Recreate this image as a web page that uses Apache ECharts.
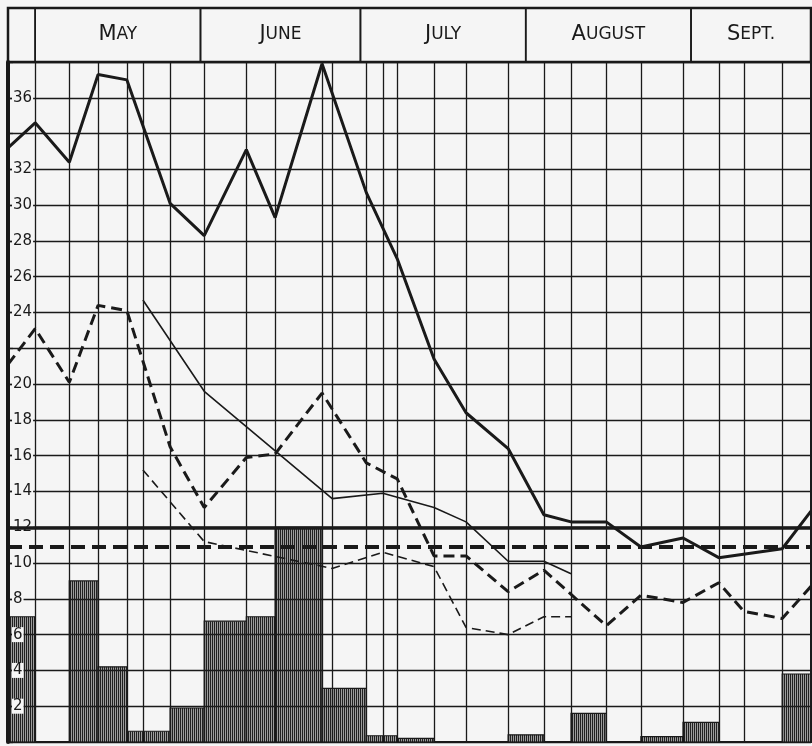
<!DOCTYPE html>
<html>
<head>
<meta charset="utf-8">
<script src="https://cdn.jsdelivr.net/npm/echarts@6/dist/echarts.min.js"></script>
<style>
	html, body { margin: 0; padding: 0; background: #f5f5f5; }
	#chart { width: 812px; height: 746px; }
</style>
</head>
<body>
<div id="chart"></div>
<script>
// x is counted in days after May 1
var dayMin = -5.1,
	dayMax = 145.5;

var months = ['May', 'June', 'July', 'August', 'Sept.'];
var monthStart = [0, 31, 61, 92, 123];

// dates of the vertical rulings
var sampleDays = [0, 6.4, 11.8, 17.2, 20.2, 25.3, 31.7, 39.6, 45.0, 53.8, 55.7, 62.1, 65.2, 67.9,
	74.8, 80.8, 88.7, 95.4, 100.5, 107.1, 113.6, 121.5, 128.2, 132.9, 140.1];

var yLabelled = [2, 4, 6, 8, 10, 12, 14, 16, 18, 20, 24, 26, 28, 30, 32, 36];

var heavySolidDays = [-5.1, 0, 6.4, 11.8, 17.2, 25.3, 31.7, 39.6, 45.0, 53.8, 62.1, 67.9, 74.8, 80.8,
	88.7, 95.4, 100.5, 107.1, 113.6, 121.5, 128.2, 140.1, 145.5];
var heavySolidValues = [33.2, 34.6, 32.4, 37.3, 37.0, 30.1, 28.3, 33.1, 29.3, 37.9, 30.7, 27.0, 21.4, 18.4,
	16.4, 12.7, 12.3, 12.3, 10.9, 11.4, 10.3, 10.8, 12.9];

var heavyDashDays = [-5.1, 0, 6.4, 11.8, 17.2, 25.3, 31.7, 39.6, 45.0, 53.8, 62.1, 67.9, 74.8, 80.8,
	88.7, 95.4, 107.1, 113.6, 121.5, 128.2, 132.9, 140.1, 145.5];
var heavyDashValues = [21.1, 23.1, 20.1, 24.4, 24.1, 16.5, 13.1, 15.9, 16.1, 19.5, 15.6, 14.7, 10.4, 10.4,
	8.4, 9.6, 6.5, 8.2, 7.8, 8.9, 7.3, 6.9, 8.7];

var lightDays = [20.2, 31.7, 55.7, 65.2, 74.8, 80.8, 88.7, 95.4, 100.5];
var lightSolidValues = [24.7, 19.6, 13.6, 13.9, 13.1, 12.3, 10.1, 10.1, 9.4];
var lightDashValues = [15.2, 11.2, 9.7, 10.6, 9.8, 6.4, 6.0, 7.0, 7.0];

var barStart = [-5.1, 6.4, 11.8, 17.2, 25.3, 31.7, 39.6, 45.0, 53.8, 62.1, 67.9, 88.7, 100.5, 113.6, 121.5, 140.1];
var barEnd = [0, 11.8, 17.2, 25.3, 31.7, 39.6, 45.0, 53.8, 62.1, 67.9, 74.8, 95.4, 107.1, 121.5, 128.2, 145.5];
var barValue = [7.0, 9.0, 4.2, 0.6, 1.9, 6.75, 7.0, 12.0, 3.0, 0.35, 0.2, 0.4, 1.6, 0.3, 1.1, 3.8];

var solidRule = 12,
	dashRule = 10.9;

function zip(a, b) {
	var out = [], i;
	for (i = 0; i < a.length; i++) out.push([a[i], b[i]]);
	return out;
}

// vertical hatching for the bars
var hatch = document.createElement('canvas');
hatch.width = 2;
hatch.height = 2;
var hctx = hatch.getContext('2d');
hctx.fillStyle = '#9c9c9c';
hctx.fillRect(0, 0, 2, 2);
hctx.fillStyle = '#202020';
hctx.fillRect(0, 0, 1, 2);

var ink = '#1a1a1a';

var barData = [], i;
for (i = 0; i < barValue.length; i++) barData.push([barStart[i], barEnd[i], barValue[i]]);

var monthAreas = [];
monthAreas.push([{ xAxis: dayMin, name: '' }, { xAxis: monthStart[0] }]);
for (i = 0; i < months.length; i++) {
	monthAreas.push([
		{ xAxis: monthStart[i], name: months[i] },
		{ xAxis: i < months.length - 1 ? monthStart[i + 1] : dayMax }
	]);
}

var rulings = sampleDays.map(function (d) { return { xAxis: d }; });

function renderBar(params, api) {
	var p0 = api.coord([api.value(0), api.value(2)]);
	var p1 = api.coord([api.value(1), 0]);
	return {
		type: 'rect',
		shape: { x: p0[0], y: p0[1], width: p1[0] - p0[0], height: p1[1] - p0[1] },
		style: { fill: { image: hatch, repeat: 'repeat' }, stroke: ink, lineWidth: 1.2 }
	};
}

var chart = echarts.init(document.getElementById('chart'), null, { renderer: 'canvas' });

var option = {
	backgroundColor: '#f5f5f5',
	animation: false,
	grid: [
		{ left: 8, right: 1, top: 62, bottom: 4, show: true, borderColor: ink, borderWidth: 2, backgroundColor: 'transparent' },
		{ left: 8, right: 1, top: 8, height: 54, show: true, borderColor: ink, borderWidth: 2.5, backgroundColor: 'transparent' }
	],
	xAxis: [
		{ type: 'value', gridIndex: 0, min: dayMin, max: dayMax, show: false },
		{ type: 'value', gridIndex: 1, min: dayMin, max: dayMax, show: false }
	],
	yAxis: [
		{
			type: 'value', gridIndex: 0, min: 0, max: 38, interval: 2, z: 3,
			axisLine: { show: true, onZero: false, lineStyle: { color: ink, width: 4 } },
			axisTick: { show: true, inside: true, length: 5, lineStyle: { color: ink, width: 1.3 } },
			splitLine: { show: true, lineStyle: { color: ink, width: 1.3 } },
			axisLabel: {
				inside: true, margin: 4, color: ink, fontSize: 15, fontFamily: 'DejaVu Sans',
				backgroundColor: '#f5f5f5', padding: [0, 1],
				formatter: function (v) { return yLabelled.indexOf(v) >= 0 ? String(v) : ''; }
			}
		},
		{ type: 'value', gridIndex: 1, min: 0, max: 1, show: false }
	],
	series: [
		{
			type: 'custom', name: 'bars', xAxisIndex: 0, yAxisIndex: 0, z: 2,
			renderItem: renderBar, encode: { x: [0, 1], y: 2 }, data: barData
		},
		{
			type: 'line', name: 'rulings', xAxisIndex: 0, yAxisIndex: 0, data: [], silent: true,
			markLine: {
				symbol: 'none', silent: true, label: { show: false },
				lineStyle: { color: ink, width: 1.3, type: 'solid' },
				data: rulings
			}
		},
		{
			type: 'line', name: 'rules', xAxisIndex: 0, yAxisIndex: 0, data: [], silent: true,
			markLine: {
				symbol: 'none', silent: true, label: { show: false }, z: 6,
				data: [
					{ yAxis: solidRule, lineStyle: { color: ink, width: 3.5, type: 'solid' } },
					{ yAxis: dashRule, lineStyle: { color: ink, width: 4, type: [14, 7] } }
				]
			}
		},
		{
			type: 'line', name: 'heavy solid', z: 7, symbol: 'none',
			lineStyle: { color: ink, width: 3 }, data: zip(heavySolidDays, heavySolidValues)
		},
		{
			type: 'line', name: 'heavy dashed', z: 7, symbol: 'none',
			lineStyle: { color: ink, width: 3, type: [11, 6] }, data: zip(heavyDashDays, heavyDashValues)
		},
		{
			type: 'line', name: 'light solid', z: 7, symbol: 'none',
			lineStyle: { color: ink, width: 1.6 }, data: zip(lightDays, lightSolidValues)
		},
		{
			type: 'line', name: 'light dashed', z: 7, symbol: 'none',
			lineStyle: { color: ink, width: 1.6, type: [9, 5] }, data: zip(lightDays, lightDashValues)
		},
		{
			type: 'line', name: 'months', xAxisIndex: 1, yAxisIndex: 1, data: [], silent: true,
			markArea: {
				silent: true,
				itemStyle: { color: 'transparent', borderColor: ink, borderWidth: 1.6 },
				label: {
					show: true, position: 'inside', color: ink,
					formatter: function (p) {
						if (!p.name) return '';
						var s = p.name.toUpperCase();
						return '{big|' + s.charAt(0) + '}{small|' + s.slice(1) + '}';
					},
					rich: {
						big: { fontSize: 21, fontFamily: 'DejaVu Sans', color: ink },
						small: { fontSize: 17, fontFamily: 'DejaVu Sans', color: ink }
					}
				},
				data: monthAreas
			}
		}
	]
};

chart.setOption(option);
</script>
</body>
</html>
